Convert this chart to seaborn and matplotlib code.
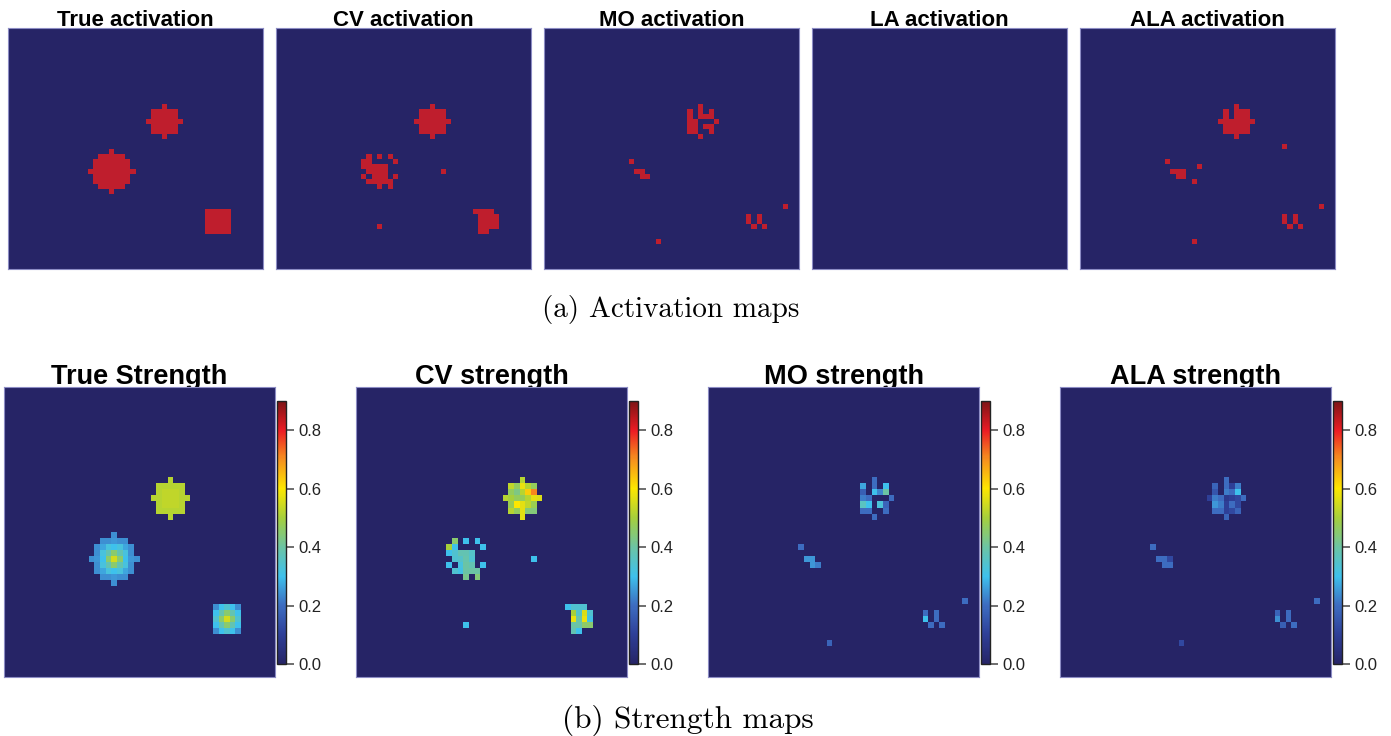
import numpy as np
import pandas as pd
import matplotlib
matplotlib.use("Agg")
import matplotlib.pyplot as plt
from matplotlib.colors import ListedColormap, LinearSegmentedColormap
import seaborn as sns

# ---------------- DATA ----------------
GRID = 48
act_titles = ["True activation", "CV activation", "MO activation", "LA activation", "ALA activation"]
str_titles = ["True Strength", "CV strength", "MO strength", "ALA strength"]
cbar_ticks = [0.0, 0.2, 0.4, 0.6, 0.8]
cbar_range = [0.0, 0.9]

# True strength: patches given as (anchor row, anchor col) + values (0 = inactive)
true_big_anchor = (24, 15)
true_big = [
    [0, 0, 0, 0, 0.24, 0, 0, 0, 0],
    [0, 0, 0.24, 0.24, 0.25, 0.24, 0.24, 0, 0],
    [0, 0.24, 0.27, 0.32, 0.30, 0.32, 0.27, 0.24, 0],
    [0, 0.24, 0.32, 0.38, 0.45, 0.38, 0.32, 0.24, 0],
    [0.24, 0.25, 0.30, 0.45, 0.55, 0.45, 0.30, 0.25, 0.24],
    [0, 0.24, 0.32, 0.38, 0.45, 0.38, 0.32, 0.24, 0],
    [0, 0.24, 0.27, 0.32, 0.30, 0.32, 0.27, 0.24, 0],
    [0, 0, 0.24, 0.24, 0.25, 0.24, 0.24, 0, 0],
    [0, 0, 0, 0, 0.24, 0, 0, 0, 0],
]
true_small_anchor = (15, 26)
true_small = [
    [0, 0, 0, 0.52, 0, 0, 0],
    [0, 0.52, 0.52, 0.52, 0.52, 0.52, 0],
    [0, 0.52, 0.53, 0.53, 0.53, 0.52, 0],
    [0.52, 0.52, 0.53, 0.53, 0.53, 0.52, 0.52],
    [0, 0.52, 0.53, 0.53, 0.53, 0.52, 0],
    [0, 0.52, 0.52, 0.52, 0.52, 0.52, 0],
    [0, 0, 0, 0.52, 0, 0, 0],
]
true_square_anchor = (36, 37)
true_square = [
    [0.24, 0.30, 0.34, 0.30, 0.24],
    [0.30, 0.38, 0.45, 0.38, 0.30],
    [0.34, 0.45, 0.55, 0.45, 0.34],
    [0.30, 0.38, 0.45, 0.38, 0.30],
    [0.24, 0.30, 0.34, 0.30, 0.24],
]

# CV strength
cv_upper_anchor = (15, 26)
cv_upper = [
    [0, 0, 0, 0.52, 0, 0, 0],
    [0, 0.53, 0.47, 0.58, 0.52, 0.47, 0],
    [0, 0.47, 0.43, 0.52, 0.63, 0.71, 0],
    [0.52, 0.50, 0.47, 0.47, 0.52, 0.57, 0.56],
    [0, 0.48, 0.60, 0.57, 0.53, 0.48, 0],
    [0, 0.52, 0.47, 0.57, 0.44, 0.44, 0],
    [0, 0, 0, 0.57, 0, 0, 0],
]
cv_left_anchor = (25, 16)
cv_left = [
    [0, 0.45, 0, 0.30, 0, 0.30, 0],
    [0.50, 0.30, 0, 0, 0, 0, 0.30],
    [0.30, 0.34, 0.38, 0.38, 0.35, 0, 0],
    [0, 0.34, 0.35, 0.39, 0.34, 0, 0],
    [0.30, 0, 0.32, 0.40, 0.38, 0, 0.30],
    [0, 0.34, 0.31, 0.40, 0.40, 0.40, 0],
    [0, 0, 0, 0.42, 0, 0.44, 0],
]
cv_square_anchor = (36, 37)
cv_square = [
    [0.30, 0.34, 0.34, 0.34, 0],
    [0, 0.50, 0.35, 0.56, 0.34],
    [0, 0.58, 0.40, 0.58, 0.31],
    [0, 0.40, 0.40, 0.46, 0.45],
    [0, 0.38, 0.30, 0, 0],
]
cv_cells = [(28, 31, 0.30), (39, 19, 0.30)]

# MO strength (row, col, value)
mo_cells = [
    (15, 29, 0.20),
    (16, 27, 0.27), (16, 29, 0.20), (16, 31, 0.30),
    (17, 27, 0.17), (17, 29, 0.30), (17, 30, 0.23), (17, 31, 0.40),
    (18, 27, 0.22), (18, 28, 0.20), (18, 32, 0.20),
    (19, 27, 0.36), (19, 28, 0.30), (19, 30, 0.33), (19, 31, 0.18),
    (20, 27, 0.20), (20, 28, 0.20), (20, 31, 0.20),
    (21, 29, 0.20),
    (26, 16, 0.20), (28, 17, 0.25), (28, 18, 0.25), (29, 18, 0.25), (29, 19, 0.22),
    (35, 45, 0.20),
    (37, 38, 0.20), (38, 38, 0.30), (37, 40, 0.20), (38, 40, 0.20), (39, 39, 0.20), (39, 41, 0.20),
    (42, 21, 0.18),
]

# ALA strength (row, col, value)
ala_cells = [
    (15, 29, 0.20),
    (16, 27, 0.18), (16, 29, 0.20), (16, 30, 0.10), (16, 31, 0.22),
    (17, 27, 0.15), (17, 29, 0.22), (17, 30, 0.20), (17, 31, 0.30),
    (18, 26, 0.10), (18, 27, 0.22), (18, 28, 0.20), (18, 29, 0.08), (18, 30, 0.10), (18, 31, 0.12), (18, 32, 0.20),
    (19, 27, 0.25), (19, 28, 0.22), (19, 29, 0.10), (19, 30, 0.20), (19, 31, 0.12),
    (20, 27, 0.20), (20, 28, 0.20), (20, 29, 0.10), (20, 30, 0.12), (20, 31, 0.18),
    (21, 29, 0.18),
    (26, 16, 0.20), (28, 17, 0.20), (28, 18, 0.20), (28, 19, 0.12), (29, 18, 0.20), (29, 19, 0.20),
    (35, 45, 0.20),
    (37, 38, 0.18), (38, 38, 0.24), (37, 40, 0.20), (38, 40, 0.20), (39, 39, 0.17), (39, 41, 0.20),
    (42, 21, 0.12),
]
# ALA activation cells with near-zero strength
ala_act_extra = [(23, 38), (27, 22), (30, 21)]

# ---------------- BUILD GRIDS ----------------
def blank():
    return np.zeros((GRID, GRID))

def put_patch(g, anchor, patch):
    r0, c0 = anchor
    for i, row in enumerate(patch):
        for j, v in enumerate(row):
            if v:
                g[r0 + i, c0 + j] = v

def put_cells(g, cells):
    for r, c, v in cells:
        g[r, c] = v

true_s = blank()
put_patch(true_s, true_big_anchor, true_big)
put_patch(true_s, true_small_anchor, true_small)
put_patch(true_s, true_square_anchor, true_square)

cv_s = blank()
put_patch(cv_s, cv_upper_anchor, cv_upper)
put_patch(cv_s, cv_left_anchor, cv_left)
put_patch(cv_s, cv_square_anchor, cv_square)
put_cells(cv_s, cv_cells)

mo_s = blank()
put_cells(mo_s, mo_cells)

ala_s = blank()
put_cells(ala_s, ala_cells)

ala_a = (ala_s > 0).astype(float)
for r, c in ala_act_extra:
    ala_a[r, c] = 1.0

act_maps = [(true_s > 0).astype(float), (cv_s > 0).astype(float),
            (mo_s > 0).astype(float), blank(), ala_a]
str_maps = [true_s, cv_s, mo_s, ala_s]

# ---------------- STYLE ----------------
NAVY = "#262466"
RED = "#bf1e2d"
act_cmap = ListedColormap([NAVY, RED])
nodes = [0.0, 0.1, 0.2, 0.3, 0.4, 0.5, 0.6, 0.7, 0.8, 0.9]
node_cols = ["#262466", "#2e3f98", "#3d6dc1", "#3ec1ec", "#6cc4a4",
             "#a6cf3c", "#fde700", "#f6921e", "#ec1c24", "#7d1416"]
str_cmap = LinearSegmentedColormap.from_list(
    "strength", [(n / 0.9, c) for n, c in zip(nodes, node_cols)], N=256)

W, H = 1391, 736
fig = plt.figure(figsize=(W / 100, H / 100), dpi=100)

def px_axes(x, y, w, h):
    return fig.add_axes([x / W, 1 - (y + h) / H, w / W, h / H])

TITLE_FONT = ["Liberation Sans", "DejaVu Sans"]
SERIF = ["cmr10", "DejaVu Serif"]

def frame(ax):
    for s in ax.spines.values():
        s.set_visible(True)
        s.set_color("#8c8cc4")
        s.set_linewidth(0.8)

# Top row: activation maps
act_left = [8, 276, 544, 812, 1080]
for x0, title, m in zip(act_left, act_titles, act_maps):
    ax = px_axes(x0, 28.3, 255, 241)
    sns.heatmap(pd.DataFrame(m), ax=ax, cmap=act_cmap, vmin=0, vmax=1,
                cbar=False, xticklabels=False, yticklabels=False)
    ax.set_xlabel("")
    ax.set_ylabel("")
    frame(ax)
    fig.text((x0 + 127.5) / W, 1 - 26.5 / H, title, ha="center", va="baseline",
             fontsize=16, fontweight="bold", family=TITLE_FONT, zorder=-1)

fig.text(671 / W, 1 - 310 / H, "(a) Activation maps", ha="center", va="center",
         fontsize=21, family=SERIF)

# Bottom row: strength maps
str_left = [4, 356, 708, 1060]
for x0, title, m in zip(str_left, str_titles, str_maps):
    ax = px_axes(x0, 386.7, 271, 290)
    cax = px_axes(x0 + 273, 401, 9, 263)
    sns.heatmap(pd.DataFrame(m), ax=ax, cmap=str_cmap, vmin=cbar_range[0], vmax=cbar_range[1],
                cbar=True, cbar_ax=cax, cbar_kws={"ticks": cbar_ticks},
                xticklabels=False, yticklabels=False)
    ax.set_xlabel("")
    ax.set_ylabel("")
    frame(ax)
    cb = ax.collections[0].colorbar
    cb.outline.set_edgecolor("#222222")
    cb.outline.set_linewidth(1.0)
    cax.set_yticks(cbar_ticks)
    cax.set_yticklabels([f"{t:.1f}" for t in cbar_ticks])
    cax.tick_params(axis="y", length=6, width=1.2, color="#555555", labelsize=12,
                    pad=3, labelcolor="#222222")
    for lab in cax.get_yticklabels():
        lab.set_family(TITLE_FONT)
    fig.text((x0 + 135.5) / W, 1 - 384.5 / H, title, ha="center", va="baseline",
             fontsize=19.5, fontweight="bold", family=TITLE_FONT, zorder=-1)

fig.text(688 / W, 1 - 720 / H, "(b) Strength maps", ha="center", va="center",
         fontsize=22.5, family=SERIF)

fig.savefig("out.png", dpi=100, facecolor="white")
